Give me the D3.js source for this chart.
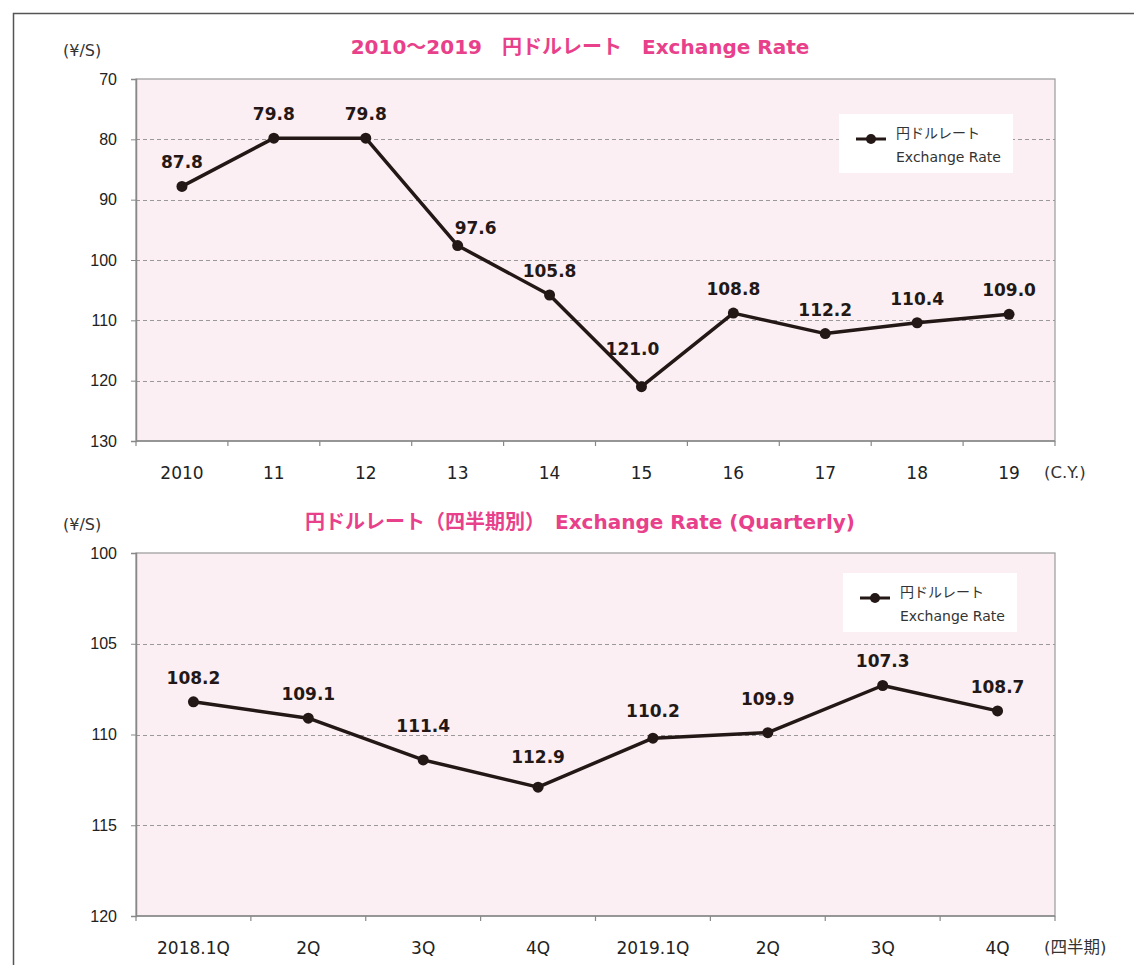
<!DOCTYPE html>
<html>
<head>
<meta charset="utf-8">
<script src="https://cdn.jsdelivr.net/npm/d3@7"></script>
<style>
  body { margin: 0; background: #fff; }
  svg { display: block; font-family: "DejaVu Sans", Verdana, "Noto Sans CJK JP", sans-serif; }
</style>
</head>
<body>
<svg id="chart" width="1134" height="965"></svg>
<script>
// annual data (calendar year)
var yearLabels = ['2010', '11', '12', '13', '14', '15', '16', '17', '18', '19'];
var yearRates = [87.8, 79.8, 79.8, 97.6, 105.8, 121.0, 108.8, 112.2, 110.4, 109.0];
var yearTicks = [70, 80, 90, 100, 110, 120, 130];

// quarterly data
var quarterLabels = ['2018.1Q', '2Q', '3Q', '4Q', '2019.1Q', '2Q', '3Q', '4Q'];
var quarterRates = [108.2, 109.1, 111.4, 112.9, 110.2, 109.9, 107.3, 108.7];
var quarterTicks = [100, 105, 110, 115, 120];

var ink = '#231815';
var pink = '#e8408a';

var svg = d3.select('#chart');

// outer frame
svg.append('rect')
  .attr('x', 13.5).attr('y', 13.5)
  .attr('width', 1140).attr('height', 1000)
  .attr('fill', 'none').attr('stroke', '#555').attr('stroke-width', 1.5);

/**
 * Draw one inverted line chart panel
 */
function drawPanel(opts) {
  var g = svg.append('g');
  var x = d3.scaleBand().domain(d3.range(opts.labels.length)).range([opts.left, opts.right]);
  var y = d3.scaleLinear().domain(d3.extent(opts.ticks)).range([opts.top, opts.bottom]);

  // plot background
  g.append('rect')
    .attr('x', opts.left).attr('y', opts.top)
    .attr('width', opts.right - opts.left).attr('height', opts.bottom - opts.top)
    .attr('fill', '#fbeff3').attr('stroke', '#999').attr('stroke-width', 1.2);

  // dashed gridlines
  g.selectAll('.grid').data(opts.ticks.slice(1, -1)).enter()
    .append('line')
    .attr('x1', opts.left).attr('x2', opts.right)
    .attr('y1', function (d) { return Math.round(y(d)) + 0.5; })
    .attr('y2', function (d) { return Math.round(y(d)) + 0.5; })
    .attr('stroke', '#999').attr('stroke-dasharray', '4,3');

  // y axis
  var yAxis = g.append('g')
    .attr('transform', 'translate(' + opts.left + ',0)')
    .call(d3.axisLeft(y).tickValues(opts.ticks).tickSize(5).tickPadding(14));
  yAxis.select('.domain').attr('stroke', '#888').attr('stroke-width', 1.5);
  yAxis.selectAll('.tick line').attr('stroke', '#888');
  yAxis.selectAll('text').attr('fill', '#222').style('font-size', '16px');

  // x axis: ticks at band boundaries, labels at band centers
  var bounds = d3.range(opts.labels.length + 1).map(function (i) {
    return opts.left + i * x.step();
  });
  g.selectAll('.xtick').data(bounds).enter()
    .append('line')
    .attr('x1', function (d) { return d; }).attr('x2', function (d) { return d; })
    .attr('y1', opts.bottom).attr('y2', opts.bottom + 5)
    .attr('stroke', '#888').attr('stroke-width', 1.2);
  g.append('line')
    .attr('x1', opts.left).attr('x2', opts.right)
    .attr('y1', opts.bottom).attr('y2', opts.bottom)
    .attr('stroke', '#888').attr('stroke-width', 1.5);
  g.selectAll('.xlabel').data(opts.labels).enter()
    .append('text')
    .attr('x', function (d, i) { return x(i) + x.bandwidth() / 2; })
    .attr('y', opts.bottom + 38)
    .attr('text-anchor', 'middle')
    .attr('fill', '#222').style('font-size', '17px')
    .text(function (d) { return d; });

  // unit labels
  g.append('text')
    .attr('x', 63).attr('y', opts.top - 23)
    .attr('fill', '#333').style('font-size', '16px')
    .text('(¥/S)');
  g.append('text')
    .attr('x', opts.right - 11).attr('y', opts.bottom + 37)
    .attr('fill', '#333').style('font-size', '16.5px')
    .text(opts.xUnit);

  // title
  g.append('text')
    .attr('x', 580).attr('y', opts.titleY)
    .attr('text-anchor', 'middle')
    .attr('fill', pink).style('font-size', '20px').style('font-weight', 'bold')
    .text(opts.title);

  // line + points
  var line = d3.line()
    .x(function (d, i) { return x(i) + x.bandwidth() / 2; })
    .y(function (d) { return y(d); });
  g.append('path')
    .datum(opts.values)
    .attr('d', line)
    .attr('fill', 'none').attr('stroke', ink).attr('stroke-width', 3.5)
    .attr('stroke-linejoin', 'round');
  g.selectAll('.pt').data(opts.values).enter()
    .append('circle')
    .attr('cx', function (d, i) { return x(i) + x.bandwidth() / 2; })
    .attr('cy', function (d) { return y(d); })
    .attr('r', 5.5)
    .attr('fill', ink);

  // value labels
  g.selectAll('.val').data(opts.values).enter()
    .append('text')
    .attr('x', function (d, i) { return x(i) + x.bandwidth() / 2 + (opts.shift[i] ? opts.shift[i][0] : 0); })
    .attr('y', function (d, i) { return y(d) + (opts.shift[i] ? opts.shift[i][1] : -18); })
    .attr('text-anchor', 'middle')
    .attr('fill', ink).style('font-size', '17px').style('font-weight', 'bold')
    .text(function (d) { return d.toFixed(1); });

  // legend
  var lg = g.append('g').attr('transform', 'translate(' + opts.legend[0] + ',' + opts.legend[1] + ')');
  lg.append('rect').attr('width', 174).attr('height', 59).attr('fill', '#fff');
  lg.append('line').attr('x1', 17).attr('x2', 47).attr('y1', 25).attr('y2', 25)
    .attr('stroke', ink).attr('stroke-width', 3);
  lg.append('circle').attr('cx', 32).attr('cy', 25).attr('r', 5).attr('fill', ink);
  lg.append('text').attr('x', 57).attr('y', 24)
    .attr('fill', '#333').style('font-size', '14px').text('円ドルレート');
  lg.append('text').attr('x', 57).attr('y', 48)
    .attr('fill', '#333').style('font-size', '14px').text('Exchange Rate');
}

drawPanel({
  labels: yearLabels, values: yearRates, ticks: yearTicks,
  left: 136, right: 1055, top: 79, bottom: 441,
  title: '2010～2019　円ドルレート　Exchange Rate', titleY: 54,
  xUnit: '(C.Y.)', legend: [839, 114],
  shift: { 3: [18, -12], 5: [-9, -32] }
});

drawPanel({
  labels: quarterLabels, values: quarterRates, ticks: quarterTicks,
  left: 136, right: 1055, top: 553, bottom: 916,
  title: '円ドルレート（四半期別）　Exchange Rate (Quarterly)', titleY: 529,
  xUnit: '(四半期)', legend: [843, 573],
  shift: { 2: [0, -28], 3: [0, -24], 4: [0, -21], 5: [0, -28] }
});
</script>
</body>
</html>
